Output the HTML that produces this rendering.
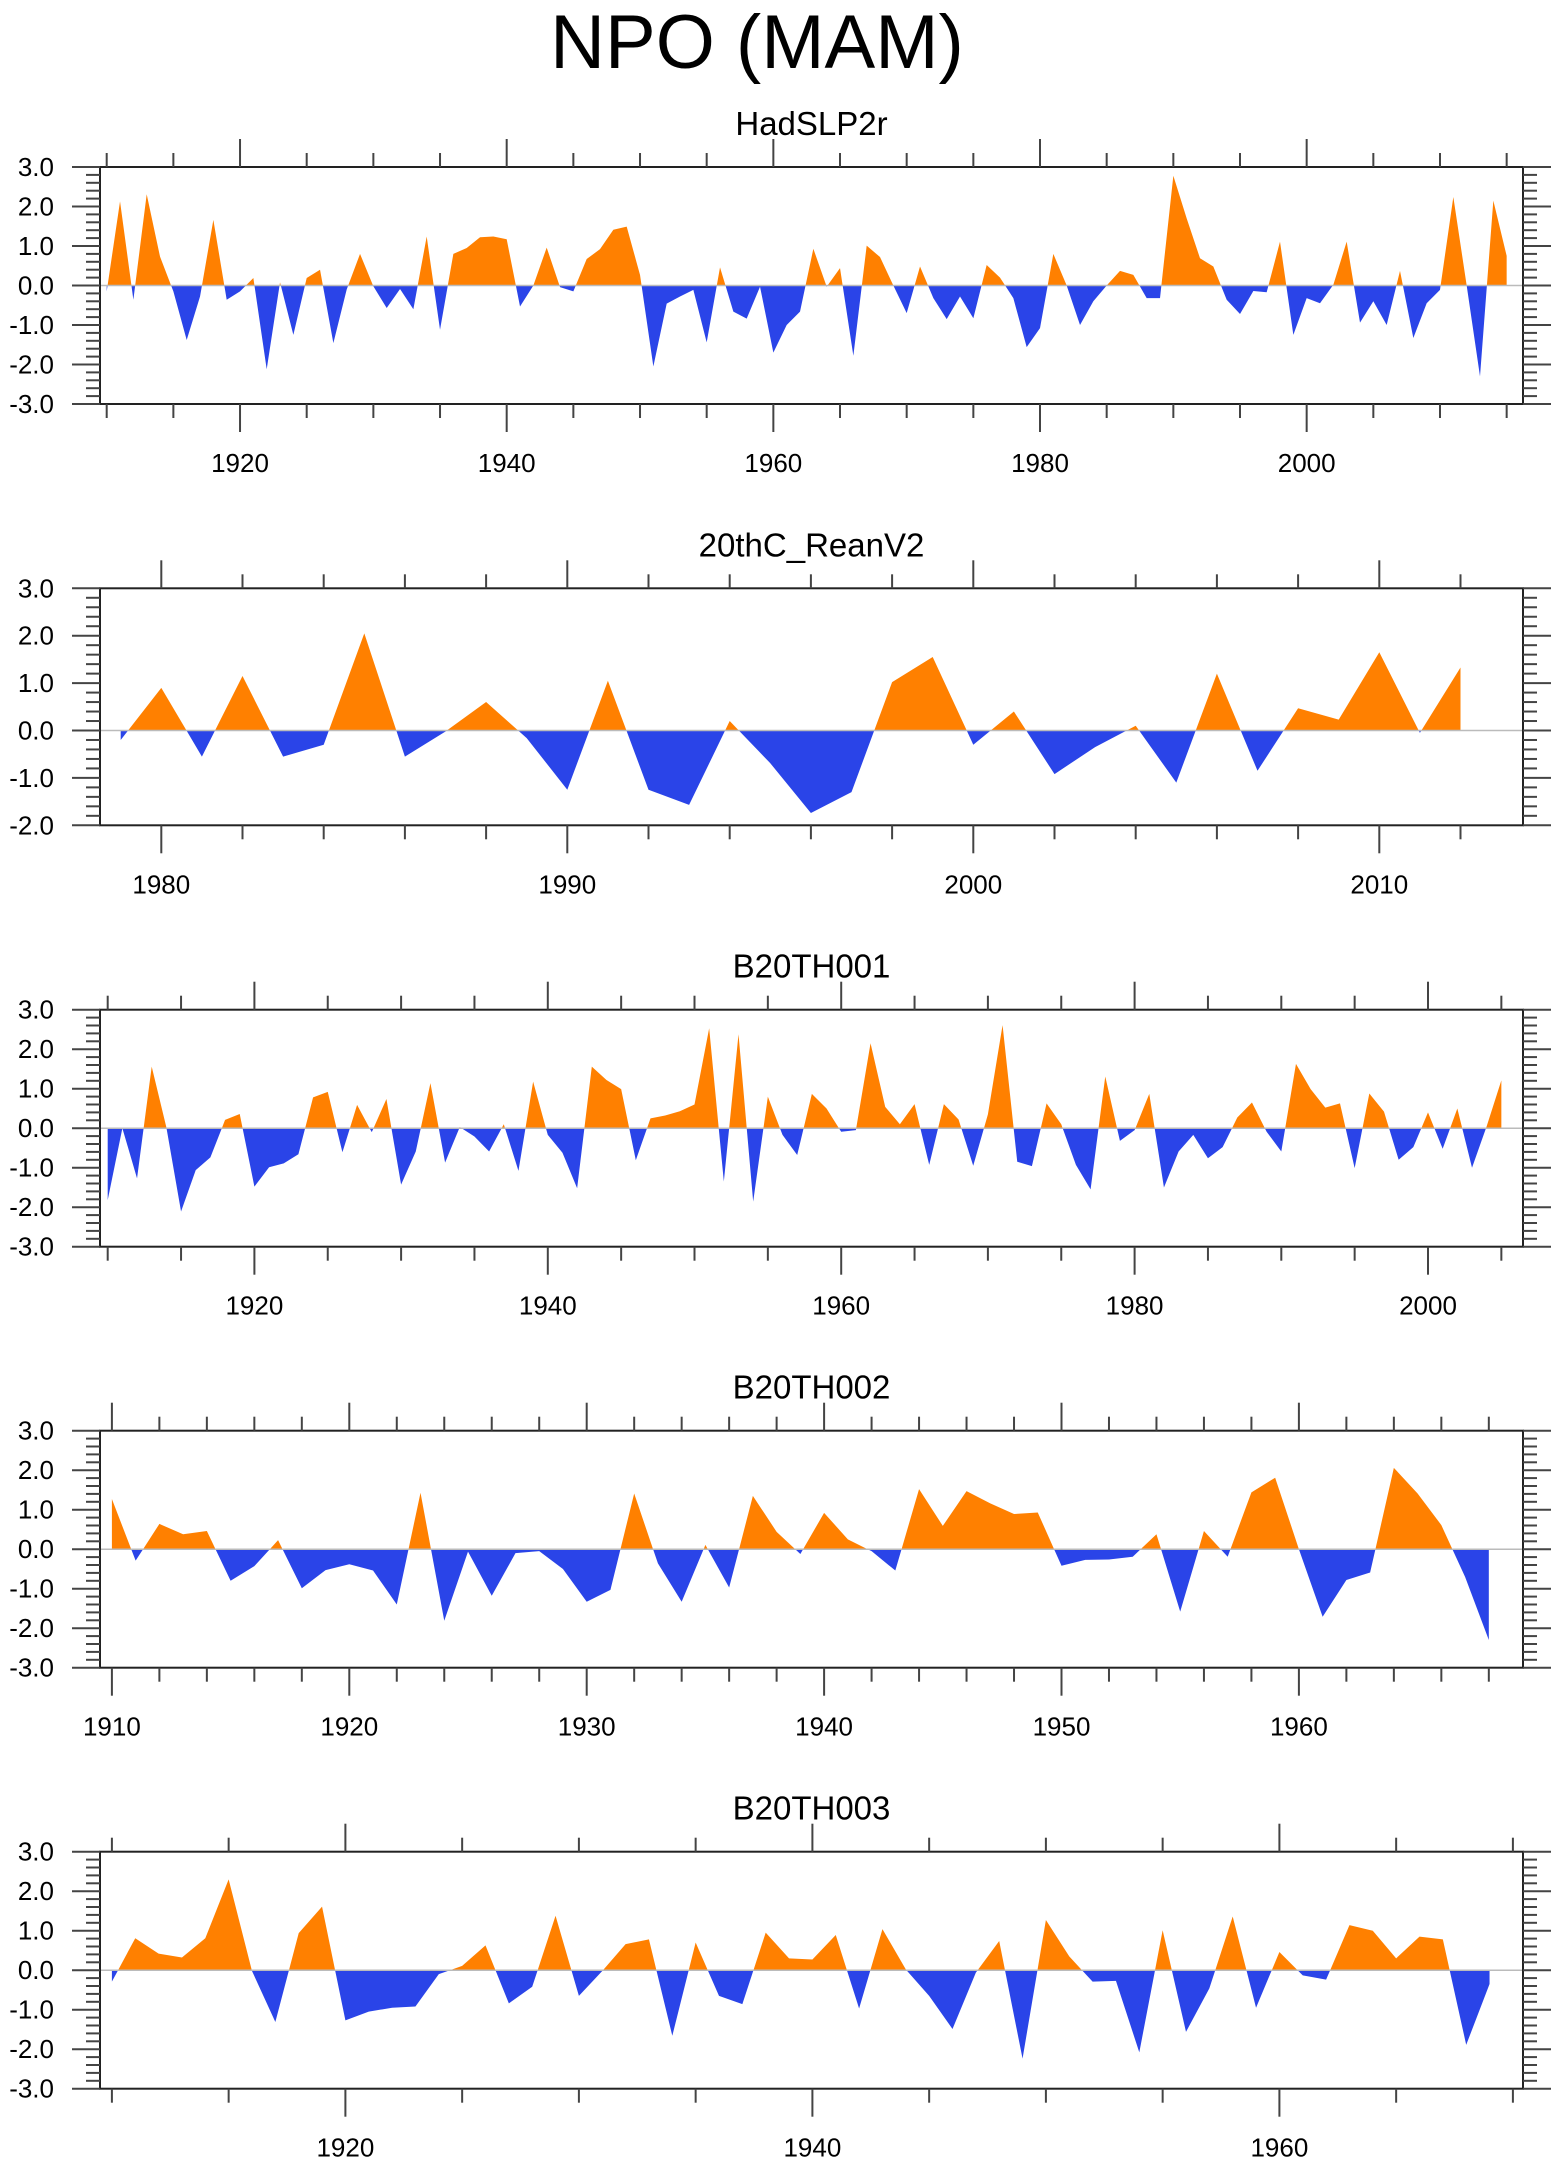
<!DOCTYPE html>
<html><head><meta charset="utf-8"><title>NPO (MAM)</title>
<style>
html,body{margin:0;padding:0;background:#fff;}
svg{display:block;font-family:"Liberation Sans",Arial,sans-serif;}
</style></head>
<body>
<svg id="chart" width="1560" height="2165" viewBox="0 0 1560 2165" xmlns="http://www.w3.org/2000/svg">
<rect width="1560" height="2165" fill="#fff"/>
<text x="757" y="68" font-size="76" text-anchor="middle" fill="#000">NPO (MAM)</text>
</svg>
<script>
// ---- data ----
const titles = ["HadSLP2r","20thC_ReanV2","B20TH001","B20TH002","B20TH003"];
const startYears = [1910,1979,1910,1910,1910];
const valsHad = [-0.15,2.13,-0.36,2.31,0.73,-0.15,-1.38,-0.28,1.66,-0.36,-0.15,0.19,-2.12,0.08,-1.25,0.19,0.4,-1.46,-0.1,0.8,-0.02,-0.57,-0.09,-0.6,1.24,-1.12,0.8,0.95,1.22,1.24,1.17,-0.53,0.0,0.96,-0.04,-0.15,0.67,0.92,1.41,1.49,0.27,-2.05,-0.46,-0.28,-0.11,-1.44,0.46,-0.66,-0.84,-0.03,-1.7,-1.0,-0.66,0.93,-0.03,0.44,-1.78,1.01,0.72,0.0,-0.7,0.48,-0.32,-0.85,-0.28,-0.83,0.52,0.2,-0.32,-1.56,-1.08,0.8,0.0,-1.0,-0.4,0.0,0.37,0.27,-0.32,-0.32,2.78,1.7,0.69,0.48,-0.36,-0.72,-0.14,-0.17,1.11,-1.25,-0.32,-0.45,0.02,1.11,-0.94,-0.4,-1.0,0.37,-1.33,-0.45,-0.11,2.24,0.0,-2.3,2.15,0.75];
const valsRean = [-0.2,0.9,-0.55,1.15,-0.55,-0.3,2.05,-0.55,-0.02,0.6,-0.16,-1.25,1.05,-1.25,-1.57,0.2,-0.69,-1.74,-1.3,1.02,1.55,-0.3,0.4,-0.92,-0.35,0.1,-1.1,1.2,-0.85,0.47,0.23,1.65,-0.05,1.33];
const vals001 = [-1.82,0.0,-1.27,1.56,0.02,-2.11,-1.06,-0.74,0.21,0.36,-1.48,-0.99,-0.89,-0.66,0.78,0.92,-0.61,0.59,-0.1,0.74,-1.43,-0.59,1.14,-0.87,0.03,-0.21,-0.59,0.1,-1.08,1.18,-0.17,-0.62,-1.52,1.56,1.22,0.99,-0.81,0.25,0.32,0.43,0.6,2.53,-1.35,2.38,-1.86,0.8,-0.17,-0.68,0.87,0.5,-0.09,-0.05,2.15,0.54,0.1,0.61,-0.93,0.61,0.22,-0.95,0.35,2.61,-0.85,-0.96,0.63,0.1,-0.93,-1.55,1.31,-0.32,-0.05,0.87,-1.5,-0.59,-0.17,-0.76,-0.48,0.27,0.65,-0.09,-0.59,1.63,0.99,0.52,0.63,-1.01,0.88,0.42,-0.8,-0.48,0.4,-0.52,0.5,-1.0,0.05,1.21];
const vals002 = [1.27,-0.29,0.64,0.38,0.46,-0.8,-0.43,0.23,-0.99,-0.53,-0.38,-0.54,-1.4,1.43,-1.81,-0.06,-1.18,-0.1,-0.05,-0.5,-1.33,-1.03,1.41,-0.36,-1.33,0.11,-0.97,1.35,0.44,-0.12,0.92,0.25,-0.05,-0.54,1.52,0.59,1.47,1.16,0.89,0.93,-0.42,-0.27,-0.26,-0.19,0.38,-1.58,0.46,-0.19,1.44,1.81,0.0,-1.71,-0.78,-0.59,2.06,1.41,0.61,-0.7,-2.3];
const vals003 = [-0.29,0.81,0.42,0.32,0.81,2.3,-0.02,-1.31,0.94,1.61,-1.27,-1.05,-0.95,-0.92,-0.1,0.11,0.63,-0.84,-0.42,1.38,-0.65,-0.02,0.66,0.78,-1.66,0.7,-0.65,-0.86,0.95,0.3,0.27,0.89,-0.97,1.04,0.02,-0.65,-1.49,-0.06,0.74,-2.24,1.27,0.35,-0.29,-0.27,-2.08,1.01,-1.56,-0.46,1.36,-0.95,0.46,-0.13,-0.24,1.14,1.0,0.3,0.85,0.78,-1.89,-0.35];
const yTickLabels3 = ["3.0","2.0","1.0","0.0","-1.0","-2.0","-3.0"];
const yTickLabels2 = ["3.0","2.0","1.0","0.0","-1.0","-2.0"];
const xLabels1 = [1920,1940,1960,1980,2000];
const xLabels2 = [1980,1990,2000,2010];
const xLabels3 = [1920,1940,1960,1980,2000];
const xLabels4 = [1910,1920,1930,1940,1950,1960];
const xLabels5 = [1920,1940,1960];

// ---- layout ----
const series = [valsHad,valsRean,vals001,vals002,vals003];
const yMins = [-3,-2,-3,-3,-3];
const yTickSets = [yTickLabels3,yTickLabels2,yTickLabels3,yTickLabels3,yTickLabels3];
const xLabelSets = [xLabels1,xLabels2,xLabels3,xLabels4,xLabels5];
const panels = [
 {top:167, x0:106.7, pxy:13.333, major:20, minor:5},
 {top:588.3, x0:120.7, pxy:40.6, major:10, minor:2},
 {top:1009.7, x0:107.7, pxy:14.67, major:20, minor:5},
 {top:1430.7, x0:111.9, pxy:23.74, major:10, minor:2},
 {top:1851.7, x0:111.9, pxy:23.35, major:20, minor:5}
];
const L=100, R=1523, H=237;
const NS="http://www.w3.org/2000/svg";
const svg=document.getElementById('chart');
function mk(tag,attrs,parent){const e=document.createElementNS(NS,tag);for(const k in attrs)e.setAttribute(k,attrs[k]);(parent||svg).appendChild(e);return e;}

panels.forEach((p,i)=>{
  const vals=series[i], start=startYears[i], ymin=yMins[i], ymax=3;
  const g=mk('g',{});
  
  
  const xs=yr=>p.x0+(yr-startYears[i])*p.pxy;
  const ys=v=>p.top+(ymax-v)/(ymax-ymin)*H;
  const yearAt=x=>start+(x-p.x0)/p.pxy;
  const t=mk('text',{x:811.5,y:p.top-32,'font-size':33,'text-anchor':'middle',fill:'#000'},g);
  t.textContent=titles[i];
  
  
  const pts=[];
  for(let k=0;k<vals.length;k++){
    if(k>0){const a=vals[k-1],b=vals[k];if((a>0&&b<0)||(a<0&&b>0)){const f=a/(a-b);pts.push([start+k-1+f,0]);}}
    pts.push([start+k,vals[k]]);
  }
  const x0=xs(start),x1=xs(start+vals.length-1),z=ys(0);
  let dp='M'+x0+','+z, dn='M'+x0+','+z;
  pts.forEach(q=>{const X=xs(q[0]);dp+=' L'+X.toFixed(2)+','+ys(Math.max(q[1],0)).toFixed(2);dn+=' L'+X.toFixed(2)+','+ys(Math.min(q[1],0)).toFixed(2);});
  dp+=' L'+x1+','+z+' Z'; dn+=' L'+x1+','+z+' Z';
  const pa=mk('path',{d:dp,fill:'#ff8000',stroke:'none'},g);
  
  
  const na=mk('path',{d:dn,fill:'#2a44e8',stroke:'none'},g);
  
  
  const zl=mk('line',{x1:L,x2:R,y1:z,y2:z,stroke:'#bbb','stroke-width':1.5},g);
  
  
  const fr=mk('rect',{x:L,y:p.top,width:R-L,height:H,fill:'none',stroke:'#222','stroke-width':2},g);
  
  
  const yrA=Math.ceil(yearAt(L)), yrB=Math.floor(yearAt(R));
  for(let yr=yrA;yr<=yrB;yr++){
    if(yr%p.minor!==0)continue;
    const X=xs(yr), maj=yr%p.major===0, len=maj?28:14;
    mk('line',{x1:X,x2:X,y1:p.top,y2:p.top-len,stroke:'#444','stroke-width':2},g);
    mk('line',{x1:X,x2:X,y1:p.top+H,y2:p.top+H+len,stroke:'#444','stroke-width':2},g);
  }
  xLabelSets[i].forEach(yr=>{
    const tx=mk('text',{x:xs(yr),y:p.top+H+68,'font-size':26,'text-anchor':'middle',fill:'#000'},g);
    tx.textContent=yr;
    
    
  });
  for(let v=Math.round(ymin*5);v<=15;v++){
    const Y=ys(v/5), maj=v%5===0, len=maj?28:14;
    mk('line',{x1:L,x2:L-len,y1:Y,y2:Y,stroke:'#444','stroke-width':2},g);
    mk('line',{x1:R,x2:R+len,y1:Y,y2:Y,stroke:'#444','stroke-width':2},g);
  }
  yTickSets[i].forEach((lab,k)=>{
    const ty=mk('text',{x:54,y:ys(3-k)+9,'font-size':26,'text-anchor':'end',fill:'#000'},g);
    ty.textContent=lab;
    
    
  });
});
</script>
</body></html>
